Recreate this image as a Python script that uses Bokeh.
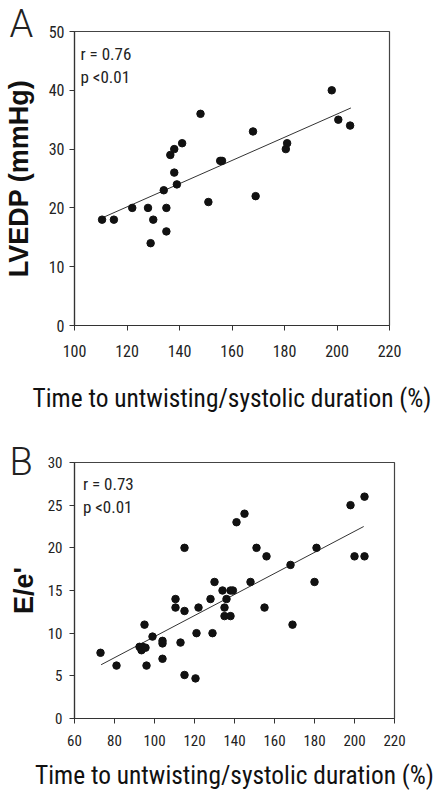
from bokeh.plotting import figure
from bokeh.layouts import column
from bokeh.models import FixedTicker, Label, Range1d, Title
from bokeh.embed import file_html
from bokeh.resources import INLINE

# ---- Panel A data: LVEDP vs time to untwisting ----
a_x = [198, 200.5, 205, 148, 168, 180.5, 181, 136.5, 138, 141, 138, 139, 155.5, 156.2,
       134, 169, 151, 110.5, 115, 122, 128, 130, 135, 135, 129]
a_y = [40, 35, 34, 36, 33, 30, 31, 29, 30, 31, 26, 24, 28, 28,
       23, 22, 21, 18, 18, 20, 20, 18, 20, 16, 14]
a_fit_x = [110.5, 205.3]
a_fit_y = [18.3, 37.0]
a_xticks = [100, 120, 140, 160, 180, 200, 220]
a_yticks = [0, 10, 20, 30, 40, 50]

# ---- Panel B data: E/e' vs time to untwisting ----
b_x = [205, 198, 200, 205, 145, 141, 115, 151, 156, 181, 168, 180, 148, 130, 134, 138, 139.2,
       110.5, 128, 136, 110.5, 122, 135, 155, 115, 135, 138, 95, 169, 121, 129, 99, 104, 104,
       113, 92.5, 94, 93.5, 95.5, 73, 104, 81, 96, 115, 120.5]
b_y = [26, 25, 19, 19, 24, 23, 20, 20, 19, 20, 18, 16, 16, 16, 15, 15, 15,
       14, 14, 14, 13, 13, 13, 13, 12.6, 12, 12, 11, 11, 10, 10, 9.6, 9.1, 8.8,
       8.9, 8.4, 8.4, 8.0, 8.3, 7.7, 7.0, 6.2, 6.2, 5.1, 4.7]
b_fit_x = [73.3, 204.6]
b_fit_y = [6.3, 22.5]
b_xticks = [60, 80, 100, 120, 140, 160, 180, 200, 220]
b_yticks = [0, 5, 10, 15, 20, 25, 30]

NARROW = "'Roboto Condensed', Roboto, sans-serif"
LIGHT = "'Roboto Light', 'Roboto Condensed', Roboto, sans-serif"
BOLD = "'Liberation Sans', Arial, sans-serif"
XLABEL = "Time to untwisting/systolic duration (%)"


def style(p, xticks, yticks, ylabel, tick_size):
    p.xgrid.visible = False
    p.ygrid.visible = False
    p.outline_line_color = "#444444"
    p.outline_line_width = 1.2
    p.xaxis.ticker = FixedTicker(ticks=xticks)
    p.yaxis.ticker = FixedTicker(ticks=yticks)
    for ax in (p.xaxis[0], p.yaxis[0]):
        ax.axis_line_color = "#333333"
        ax.axis_line_width = 1.2
        ax.major_tick_line_color = "#333333"
        ax.major_tick_out = 5
        ax.major_tick_in = 0
        ax.minor_tick_out = 0
        ax.minor_tick_in = 0
        ax.major_label_text_font = NARROW
        ax.major_label_text_font_size = tick_size
        ax.major_label_text_color = "#222222"
    p.xaxis.axis_label = XLABEL
    p.xaxis.axis_label_text_font = NARROW
    p.xaxis.axis_label_text_font_size = "25.4px"
    p.xaxis.axis_label_text_font_style = "normal"
    p.xaxis.axis_label_text_color = "#111111"
    p.yaxis.axis_label = ylabel
    p.yaxis.axis_label_text_font = BOLD
    p.yaxis.axis_label_text_font_size = "27px"
    p.yaxis.axis_label_text_font_style = "bold"
    p.yaxis.axis_label_text_color = "#111111"


def panel_letter(p, letter, offset, standoff):
    p.add_layout(Title(text=letter, text_font=LIGHT, text_font_size="38px",
                       text_color="#222222", text_font_style="normal",
                       align="left", offset=offset, standoff=standoff), "above")


# ---- Figure A ----
pa = figure(frame_width=315, frame_height=294, output_backend="svg", toolbar_location=None,
            x_range=Range1d(100, 220), y_range=Range1d(0, 50),
            min_border_left=72, min_border_top=31, min_border_right=51, min_border_bottom=91)
style(pa, a_xticks, a_yticks, "LVEDP (mmHg)", "16px")
pa.xaxis.major_label_standoff = 14
pa.xaxis.axis_label_standoff = 23
pa.yaxis.major_label_standoff = 5
pa.yaxis.axis_label_standoff = 12
pa.line(a_fit_x, a_fit_y, line_color="#333333", line_width=1)
pa.scatter(a_x, a_y, size=7.5, fill_color="#111111", line_color="#111111")
pa.add_layout(Label(x=102.3, y=47.9, text="r = 0.76", text_font=NARROW, text_font_size="17px",
                    text_color="#222222", text_baseline="top"))
pa.add_layout(Label(x=102.3, y=44.0, text="p <0.01", text_font=NARROW, text_font_size="17px",
                    text_color="#222222", text_baseline="top"))
panel_letter(pa, "A", -65, -29)

# ---- Figure B ----
pb = figure(frame_width=320, frame_height=256, output_backend="svg", toolbar_location=None,
            x_range=Range1d(60, 220), y_range=Range1d(0, 30),
            min_border_left=62, min_border_top=46, min_border_right=56, min_border_bottom=76)
style(pb, b_xticks, b_yticks, "E/e'", "15px")
pb.xaxis.major_label_standoff = 11
pb.xaxis.axis_label_standoff = 11
pb.yaxis.major_label_standoff = 7
pb.yaxis.axis_label_standoff = 6
pb.line(b_fit_x, b_fit_y, line_color="#333333", line_width=1)
pb.scatter(b_x, b_y, size=7.5, fill_color="#111111", line_color="#111111")
pb.add_layout(Label(x=64.2, y=28.7, text="r = 0.73", text_font=NARROW, text_font_size="17px",
                    text_color="#222222", text_baseline="top"))
pb.add_layout(Label(x=64.2, y=26.0, text="p <0.01", text_font=NARROW, text_font_size="17px",
                    text_color="#222222", text_baseline="top"))
panel_letter(pb, "B", -65, -43)

layout = column(pa, pb, spacing=0)
open("out.html", "w").write(file_html(layout, INLINE))
